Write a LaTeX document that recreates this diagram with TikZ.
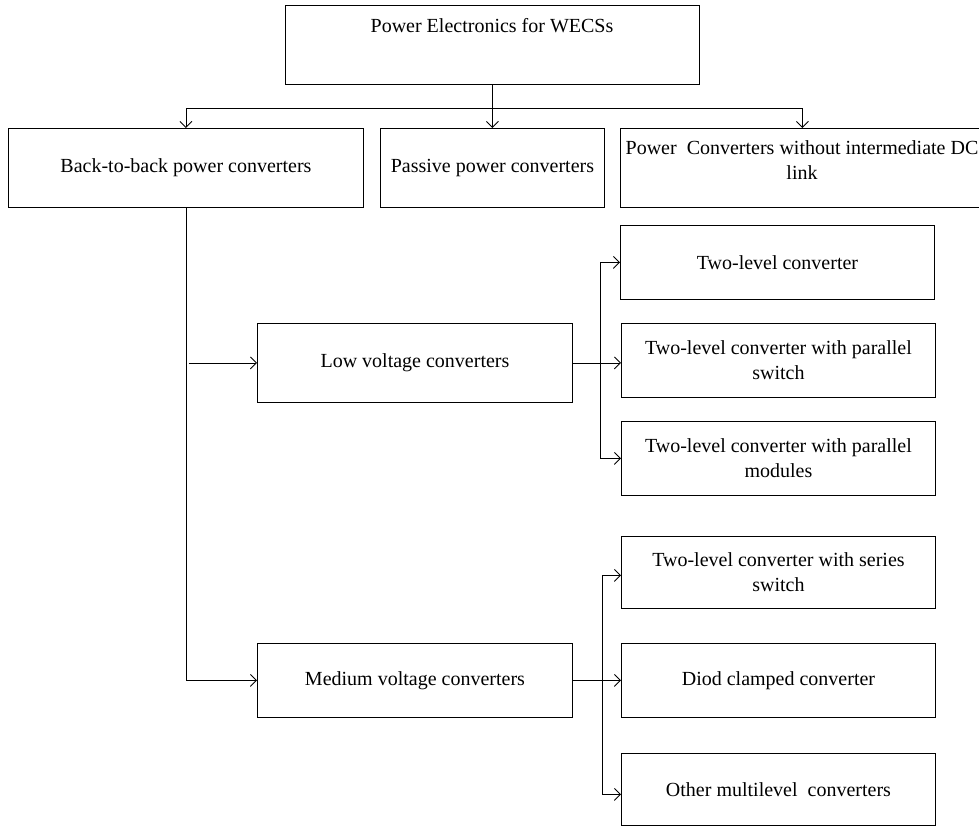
\documentclass[tikz,border=0pt]{standalone}
\usepackage{fontspec}
\setmainfont{Liberation Serif}
\usetikzlibrary{arrows.meta}
\begin{document}
\begin{tikzpicture}[x=1pt,y=-1pt,
  box/.style={draw=black, line width=0.9pt, rectangle, inner sep=0pt, anchor=north west,
              font=\fontsize{20}{25}\selectfont, align=center},
  lbl/.style={font=\fontsize{20}{25}\selectfont, align=center, inner sep=0pt},
  wire/.style={line width=0.9pt},
  conn/.style={line width=0.9pt, -{Straight Barb[length=6pt,width=12pt]}}
]
\useasboundingbox (0,0) rectangle (979,827);
\clip (0,0) rectangle (979,827);

% top level
\node[box, minimum width=414pt, minimum height=79pt] (top) at (285,5) {};
\node[lbl] (toptxt) at (492,26) {Power Electronics for WECSs};

% second row
\node[box, minimum width=355pt, minimum height=79pt] (b2b) at (8,128) {Back-to-back power converters};
\node[box, minimum width=224pt, minimum height=79pt] (pas) at (380,128) {Passive power converters};
\node[box, minimum width=364pt, minimum height=79pt] (ndc) at (620,128) {};
\node[lbl] (ndctxt) at (802,160) {Power\ \ Converters without intermediate DC\\link};

% voltage classes
\node[box, minimum width=315pt, minimum height=79pt] (lv) at (257,323) {Low voltage converters};
\node[box, minimum width=315pt, minimum height=74pt] (mv) at (257,643) {Medium voltage converters};

% low voltage topologies
\node[box, minimum width=314pt, minimum height=74pt] (tl) at (620,225) {Two-level converter};
\node[box, minimum width=314pt, minimum height=74pt] (ps) at (621,323) {Two-level converter with parallel\\switch};
\node[box, minimum width=314pt, minimum height=74pt] (pm) at (621,421) {Two-level converter with parallel\\modules};

% medium voltage topologies
\node[box, minimum width=314pt, minimum height=72pt] (ss) at (621,536) {Two-level converter with series\\switch};
\node[box, minimum width=314pt, minimum height=74pt] (dc) at (621,643) {Diod clamped converter};
\node[box, minimum width=314pt, minimum height=72pt] (om) at (621,753) {Other multilevel\ \ converters};

% bus under the top box
\coordinate (bus) at (top.south |- 0,108);
\draw[wire] (top.south) -- (bus);
\draw[conn] (bus) -- (pas.north);
\draw[conn] (bus) -| (b2b.north);
\draw[conn] (bus) -| (ndc.north);

% main trunk
\draw[conn] (b2b.south) |- (mv.west);
\coordinate (lvtap) at ([xshift=3pt]b2b.south |- lv.west);
\draw[conn] (lvtap) -- (lv.west);

% low voltage fan-out
\coordinate (lvfork) at (600,362.5);
\draw[conn] (lv.east) -- (ps.west |- lv.east);
\draw[conn] (lvfork) |- (tl.west);
\draw[conn] (lvfork) |- (pm.west);

% medium voltage fan-out
\coordinate (mvfork) at (602,680);
\draw[conn] (mv.east) -- (dc.west);
\draw[conn] (mvfork) |- ([yshift=-3pt]ss.west);
\draw[conn] (mvfork) |- ([yshift=-5pt]om.west);
\end{tikzpicture}
\end{document}
